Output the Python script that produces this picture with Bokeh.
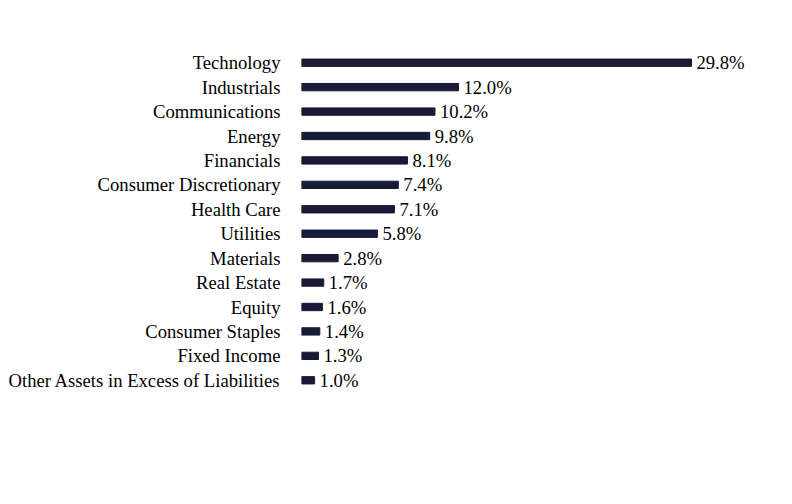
from bokeh.plotting import figure
from bokeh.models import FactorRange, Range1d, ColumnDataSource
from bokeh.core.properties import value
from bokeh.embed import file_html
from bokeh.resources import INLINE

categories = ["Technology", "Industrials", "Communications", "Energy", "Financials",
              "Consumer Discretionary", "Health Care", "Utilities", "Materials",
              "Real Estate", "Equity", "Consumer Staples", "Fixed Income",
              "Other Assets in Excess of Liabilities"]
values = [29.8, 12.0, 10.2, 9.8, 8.1, 7.4, 7.1, 5.8, 2.8, 1.7, 1.6, 1.4, 1.3, 1.0]
labels = [f"{v:.1f}%" for v in values]

FONT = "Liberation Serif"
COLOR = "#191938"
FSIZE = "18.67px"

src = ColumnDataSource(dict(cat=categories, val=values, lab=labels))

p = figure(width=792, height=504, output_backend="svg", toolbar_location=None,
           y_range=FactorRange(factors=list(reversed(categories)), range_padding=0),
           x_range=Range1d(0, 35))
p.min_border_left = 301
p.min_border_right = 33
p.min_border_top = 50
p.min_border_bottom = 112
p.frame_height = 342
p.frame_width = 458
p.outline_line_color = None
p.background_fill_color = "white"
p.border_fill_color = "white"
p.grid.visible = False
p.xaxis.visible = False

ya = p.yaxis[0]
ya.axis_line_color = None
ya.major_tick_line_color = None
ya.minor_tick_line_color = None
ya.major_tick_out = 0
ya.major_label_standoff = 21
ya.major_label_text_font = FONT
ya.major_label_text_font_size = FSIZE
ya.major_label_text_color = "#000000"

p.hbar(y="cat", right="val", left=0, height=0.3, source=src, color=COLOR)
p.text(x="val", y="cat", text="lab", source=src, x_offset=5,
       text_baseline="middle", text_align="left",
       text_font=value(FONT), text_font_size=FSIZE, text_color="#000000")

open("out.html", "w").write(file_html(p, INLINE))
